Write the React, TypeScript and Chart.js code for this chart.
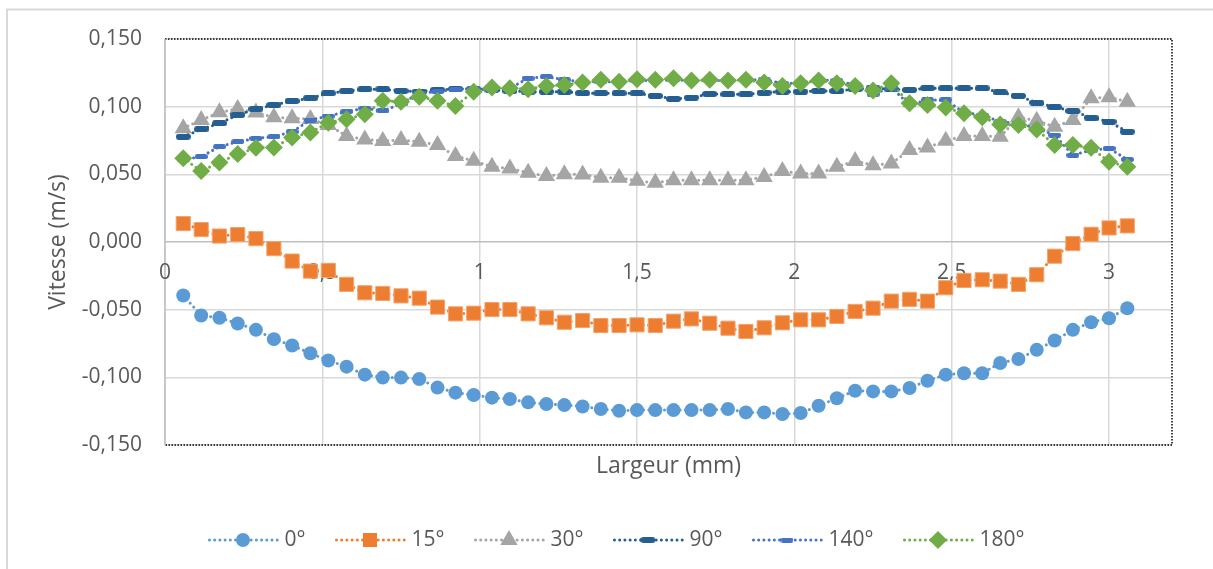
import React, { useEffect, useRef } from 'react';
import { Chart, registerables } from 'chart.js';

Chart.register(...registerables);

// Largeur (mm)
const X_MM = [
  0.058, 0.115, 0.173, 0.231, 0.289, 0.346, 0.404, 0.462, 0.519, 0.577,
  0.635, 0.692, 0.750, 0.808, 0.866, 0.923, 0.981, 1.039, 1.096, 1.154,
  1.212, 1.269, 1.327, 1.385, 1.443, 1.500, 1.558, 1.616, 1.673, 1.731,
  1.789, 1.846, 1.904, 1.962, 2.020, 2.077, 2.135, 2.193, 2.250, 2.308,
  2.366, 2.423, 2.481, 2.539, 2.597, 2.654, 2.712, 2.770, 2.827, 2.885,
  2.943, 3.000, 3.058,
];

const V_0 = [
  -0.0395, -0.0543, -0.0560, -0.0602, -0.0649, -0.0718, -0.0765, -0.0822, -0.0876, -0.0921,
  -0.0980, -0.1002, -0.1002, -0.1012, -0.1076, -0.1113, -0.1131, -0.1150, -0.1160, -0.1185,
  -0.1197, -0.1205, -0.1215, -0.1234, -0.1247, -0.1242, -0.1242, -0.1242, -0.1242, -0.1242,
  -0.1234, -0.1259, -0.1259, -0.1271, -0.1264, -0.1210, -0.1155, -0.1099, -0.1104, -0.1104,
  -0.1079, -0.1025, -0.0980, -0.0970, -0.0970, -0.0894, -0.0864, -0.0797, -0.0728, -0.0649,
  -0.0593, -0.0563, -0.0489,
];

const V_15 = [
  0.0136, 0.0092, 0.0044, 0.0055, 0.0025, -0.0049, -0.0141, -0.0215, -0.0210, -0.0313,
  -0.0375, -0.0380, -0.0398, -0.0415, -0.0481, -0.0531, -0.0526, -0.0499, -0.0499, -0.0531,
  -0.0560, -0.0593, -0.0580, -0.0617, -0.0617, -0.0612, -0.0617, -0.0585, -0.0568, -0.0600,
  -0.0637, -0.0661, -0.0634, -0.0597, -0.0575, -0.0575, -0.0550, -0.0513, -0.0489, -0.0437,
  -0.0424, -0.0437, -0.0338, -0.0284, -0.0279, -0.0289, -0.0313, -0.0242, -0.0105, -0.0012,
  0.0057, 0.0104, 0.0119,
];

const V_30 = [
  0.0840, 0.0901, 0.0958, 0.0983, 0.0956, 0.0921, 0.0914, 0.0909, 0.0864, 0.0783,
  0.0758, 0.0746, 0.0753, 0.0741, 0.0716, 0.0635, 0.0600, 0.0556, 0.0543, 0.0511,
  0.0487, 0.0501, 0.0499, 0.0474, 0.0474, 0.0452, 0.0437, 0.0457, 0.0457, 0.0457,
  0.0457, 0.0457, 0.0481, 0.0524, 0.0506, 0.0506, 0.0556, 0.0598, 0.0568, 0.0580,
  0.0679, 0.0699, 0.0748, 0.0783, 0.0783, 0.0778, 0.0921, 0.0896, 0.0852, 0.0901,
  0.1062, 0.1069, 0.1037,
];

const V_90 = [
  0.0778, 0.0832, 0.0877, 0.0938, 0.0983, 0.1013, 0.1042, 0.1062, 0.1099, 0.1114,
  0.1129, 0.1129, 0.1116, 0.1111, 0.1124, 0.1131, 0.1129, 0.1124, 0.1116, 0.1111,
  0.1111, 0.1111, 0.1099, 0.1099, 0.1099, 0.1099, 0.1079, 0.1057, 0.1067, 0.1094,
  0.1091, 0.1091, 0.1104, 0.1111, 0.1111, 0.1116, 0.1116, 0.1129, 0.1136, 0.1129,
  0.1124, 0.1136, 0.1136, 0.1136, 0.1136, 0.1106, 0.1079, 0.1030, 0.0996, 0.0968,
  0.0919, 0.0889, 0.0815,
];

const V_140 = [
  0.0610, 0.0630, 0.0704, 0.0741, 0.0766, 0.0778, 0.0815, 0.0901, 0.0931, 0.0963,
  0.0988, 0.0968, 0.1020, 0.1099, 0.1111, 0.1129, 0.1131, 0.1129, 0.1136, 0.1210,
  0.1222, 0.1198, 0.1185, 0.1185, 0.1185, 0.1193, 0.1193, 0.1198, 0.1193, 0.1193,
  0.1193, 0.1198, 0.1198, 0.1173, 0.1173, 0.1198, 0.1193, 0.1161, 0.1092, 0.1143,
  0.1013, 0.1050, 0.1050, 0.0956, 0.0938, 0.0889, 0.0877, 0.0840, 0.0790, 0.0642,
  0.0679, 0.0692, 0.0610,
];

const V_180 = [
  0.0618, 0.0524, 0.0588, 0.0650, 0.0696, 0.0699, 0.0773, 0.0810, 0.0882, 0.0907,
  0.0944, 0.1044, 0.1037, 0.1074, 0.1044, 0.1005, 0.1111, 0.1141, 0.1136, 0.1129,
  0.1153, 0.1161, 0.1178, 0.1198, 0.1185, 0.1203, 0.1198, 0.1210, 0.1193, 0.1198,
  0.1193, 0.1198, 0.1178, 0.1153, 0.1173, 0.1193, 0.1173, 0.1153, 0.1119, 0.1173,
  0.1025, 0.1013, 0.0993, 0.0951, 0.0921, 0.0869, 0.0864, 0.0832, 0.0716, 0.0716,
  0.0696, 0.0593, 0.0556,
];

const SERIES_LABELS = ['0°', '15°', '30°', '90°', '140°', '180°'];
const SERIES_VALUES = [V_0, V_15, V_30, V_90, V_140, V_180];
const X_TICKS = [0, 0.5, 1, 1.5, 2, 2.5, 3];
const X_TICK_LABELS = ['0', '0,5', '1', '1,5', '2', '2,5', '3'];
const Y_TICKS = [-0.15, -0.1, -0.05, 0, 0.05, 0.1, 0.15];
const X_TITLE = 'Largeur (mm)';
const Y_TITLE = 'Vitesse (m/s)';

const COLORS = ['#5B9BD5', '#ED7D31', '#A5A5A5', '#255E91', '#4472C4', '#70AD47'];
const FONT = '"Open Sans", "DejaVu Sans", sans-serif';
const TEXT = '#595959';
const LINE_W = 3;
const LINE_DASH = [0.01, 5.2];

function makeDash(w: number, h: number, color: string): HTMLCanvasElement {
  const c = document.createElement('canvas');
  c.width = w;
  c.height = h;
  const g = c.getContext('2d')!;
  g.fillStyle = color;
  const r = h / 2;
  g.beginPath();
  g.moveTo(r, 0);
  g.lineTo(w - r, 0);
  g.arc(w - r, r, r, -Math.PI / 2, Math.PI / 2);
  g.lineTo(r, h);
  g.arc(r, r, r, Math.PI / 2, (3 * Math.PI) / 2);
  g.closePath();
  g.fill();
  return c;
}

function drawLegendMarker(ctx: CanvasRenderingContext2D, i: number, x: number, y: number, dashes: HTMLCanvasElement[]) {
  ctx.save();
  ctx.fillStyle = COLORS[i];
  ctx.beginPath();
  if (i === 0) {
    ctx.arc(x, y, 7, 0, Math.PI * 2);
    ctx.fill();
  } else if (i === 1) {
    ctx.fillRect(x - 7, y - 7, 14, 14);
  } else if (i === 2) {
    const r = 10;
    ctx.moveTo(x, y - r);
    ctx.lineTo(x + r * Math.sin((2 * Math.PI) / 3), y - r * Math.cos((2 * Math.PI) / 3));
    ctx.lineTo(x + r * Math.sin((4 * Math.PI) / 3), y - r * Math.cos((4 * Math.PI) / 3));
    ctx.closePath();
    ctx.fill();
  } else if (i === 3 || i === 4) {
    const d = dashes[i === 3 ? 0 : 1];
    ctx.drawImage(d, x - d.width / 2, y - d.height / 2);
  } else {
    const r = 9;
    ctx.moveTo(x, y - r);
    ctx.lineTo(x + r, y);
    ctx.lineTo(x, y + r);
    ctx.lineTo(x - r, y);
    ctx.closePath();
    ctx.fill();
  }
  ctx.restore();
}

export default function App() {
  const canvasRef = useRef<HTMLCanvasElement | null>(null);

  useEffect(() => {
    if (!canvasRef.current) return;
    const dash90 = makeDash(15, 6, COLORS[3]);
    const dash140 = makeDash(13, 5, COLORS[4]);
    const dashes = [dash90, dash140];

    const pointStyles: any[] = ['circle', 'rect', 'triangle', dash90, dash140, 'rectRot'];
    const pointRadii = [7, 10, 10, 7, 6, 9];

    const datasets = SERIES_LABELS.map((label, i) => ({
      label,
      data: X_MM.map((x, k) => ({ x, y: SERIES_VALUES[i][k] })),
      showLine: true,
      borderColor: COLORS[i],
      backgroundColor: COLORS[i],
      borderWidth: LINE_W,
      borderDash: LINE_DASH,
      borderCapStyle: 'round' as const,
      pointStyle: pointStyles[i],
      pointRadius: pointRadii[i],
      pointHoverRadius: pointRadii[i],
      pointBackgroundColor: COLORS[i],
      pointBorderColor: i === 1 ? '#F4A46C' : COLORS[i],
      pointBorderWidth: i === 1 ? 1 : 0,
      order: SERIES_LABELS.length - i,
      clip: false as any,
    }));

    const decor = {
      id: 'decor',
      beforeDraw(chart: any) {
        const ctx = chart.ctx as CanvasRenderingContext2D;
        ctx.save();
        ctx.strokeStyle = '#D9D9D9';
        ctx.lineWidth = 2;
        ctx.beginPath();
        ctx.moveTo(7, 569);
        ctx.lineTo(7, 9.5);
        ctx.lineTo(1213, 9.5);
        ctx.stroke();
        ctx.restore();
      },
      beforeDatasetsDraw(chart: any) {
        const ctx = chart.ctx as CanvasRenderingContext2D;
        const a = chart.chartArea;
        const xs = chart.scales.x;
        const ys = chart.scales.y;
        ctx.save();
        ctx.strokeStyle = '#000000';
        ctx.lineWidth = 1.5;
        ctx.setLineDash([1.5, 1.5]);
        ctx.beginPath();
        ctx.moveTo(a.left, a.top);
        ctx.lineTo(a.right, a.top);
        ctx.lineTo(a.right, a.bottom);
        ctx.lineTo(a.left, a.bottom);
        ctx.stroke();
        ctx.setLineDash([]);
        ctx.strokeStyle = '#BFBFBF';
        ctx.beginPath();
        ctx.moveTo(a.left, a.top);
        ctx.lineTo(a.left, a.bottom);
        ctx.stroke();
        ctx.fillStyle = TEXT;
        ctx.font = `21px ${FONT}`;
        ctx.textAlign = 'center';
        ctx.textBaseline = 'middle';
        const y0 = ys.getPixelForValue(0) + 31;
        X_TICKS.forEach((v, k) => {
          ctx.fillText(X_TICK_LABELS[k], xs.getPixelForValue(v), y0);
        });
        ctx.restore();
      },
      afterDraw(chart: any) {
        const ctx = chart.ctx as CanvasRenderingContext2D;
        ctx.save();
        ctx.font = `21px ${FONT}`;
        const lineLen = 71;
        const gapText = 6;
        const itemGap = 29;
        const widths = SERIES_LABELS.map((l) => ctx.measureText(l).width);
        const total =
          widths.reduce((s, w) => s + lineLen + gapText + w, 0) + itemGap * (SERIES_LABELS.length - 1);
        let x = 616 - total / 2;
        const y = 540;
        SERIES_LABELS.forEach((lab, i) => {
          ctx.strokeStyle = COLORS[i];
          ctx.lineWidth = LINE_W;
          ctx.lineCap = 'round';
          ctx.setLineDash(LINE_DASH);
          ctx.beginPath();
          ctx.moveTo(x + 2, y);
          ctx.lineTo(x + lineLen, y);
          ctx.stroke();
          ctx.setLineDash([]);
          drawLegendMarker(ctx, i, x + lineLen / 2, y, dashes);
          ctx.fillStyle = TEXT;
          ctx.textAlign = 'left';
          ctx.textBaseline = 'middle';
          ctx.fillText(lab, x + lineLen + gapText, y);
          x += lineLen + gapText + widths[i] + itemGap;
        });
        ctx.restore();
      },
    };

    const chart = new Chart(canvasRef.current, {
      type: 'scatter',
      data: { datasets },
      options: {
        animation: false,
        responsive: true,
        maintainAspectRatio: false,
        layout: { padding: { left: 0, top: 39, right: 41, bottom: 0 } },
        plugins: {
          legend: { display: false },
          tooltip: { enabled: false },
        },
        scales: {
          x: {
            type: 'linear',
            min: 0,
            max: 3.2,
            afterBuildTicks: (s: any) => {
              s.ticks = X_TICKS.map((v) => ({ value: v }));
            },
            afterFit: (s: any) => {
              s.height = 124;
            },
            ticks: { display: false },
            grid: { color: '#D9D9D9', lineWidth: 1.5, drawTicks: false },
            border: { display: false },
            title: {
              display: true,
              text: X_TITLE,
              color: TEXT,
              font: { family: FONT, size: 23 },
              padding: { top: 0, bottom: 89 },
            },
          },
          y: {
            type: 'linear',
            min: -0.15,
            max: 0.15,
            afterBuildTicks: (s: any) => {
              s.ticks = Y_TICKS.map((v) => ({ value: v }));
            },
            afterFit: (s: any) => {
              s.width = 165;
            },
            ticks: {
              color: TEXT,
              font: { family: FONT, size: 21 },
              padding: 23,
              callback: (v: any) => {
                const n = Math.abs(Number(v)) < 1e-9 ? 0 : Number(v);
                return n.toFixed(3).replace('.', ',');
              },
            },
            grid: {
              color: (c: any) => (c.tick && Math.abs(c.tick.value) < 1e-9 ? '#BFBFBF' : '#D9D9D9'),
              lineWidth: 1.5,
              drawTicks: false,
            },
            border: { display: false },
            title: {
              display: true,
              text: Y_TITLE,
              color: TEXT,
              font: { family: FONT, size: 23 },
              padding: { top: 45, bottom: 0 },
            },
          },
        },
      },
      plugins: [decor],
    });

    return () => chart.destroy();
  }, []);

  return (
    <div style={{ position: 'absolute', left: 0, top: 0, width: 1213, height: 569, background: '#fff' }}>
      <canvas ref={canvasRef} />
    </div>
  );
}
